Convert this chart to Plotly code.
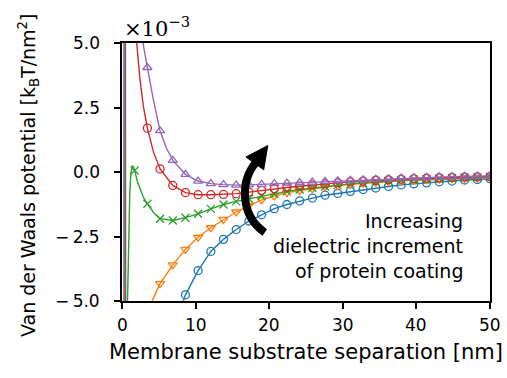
import plotly.graph_objects as go

# ---- data (potential in units of 1e-3 kBT/nm^2) ----
mark_x = [1.72, 3.45, 5.17, 6.90, 8.62, 10.34, 12.07, 13.79, 15.52, 17.24,
          18.97, 20.69, 22.41, 24.14, 25.86, 27.59, 29.31, 31.03, 32.76, 34.48,
          36.21, 37.93, 39.66, 41.38, 43.10, 44.83, 46.55, 48.28, 50.0]

blue_y = [-40.0, -14.0, -8.6, -6.2, -4.76, -3.82, -3.08, -2.61, -2.23, -1.90,
          -1.66, -1.42, -1.26, -1.12, -1.01, -0.90, -0.83, -0.75, -0.68, -0.62,
          -0.56, -0.50, -0.46, -0.42, -0.38, -0.35, -0.31, -0.29, -0.26]
orange_y = [-14.0, -5.4, -4.33, -3.60, -3.00, -2.53, -2.16, -1.84, -1.55, -1.30,
            -1.08, -0.93, -0.80, -0.72, -0.65, -0.58, -0.53, -0.48, -0.44, -0.40,
            -0.37, -0.34, -0.32, -0.30, -0.28, -0.26, -0.25, -0.23, -0.22]
green_y = [0.06, -1.23, -1.81, -1.88, -1.77, -1.62, -1.43, -1.26, -1.14, -1.04,
           -0.93, -0.84, -0.75, -0.68, -0.62, -0.56, -0.51, -0.46, -0.42, -0.38,
           -0.35, -0.32, -0.30, -0.28, -0.26, -0.24, -0.22, -0.21, -0.20]
red_y = [9.0, 1.70, 0.12, -0.52, -0.80, -0.88, -0.88, -0.87, -0.84, -0.78,
         -0.71, -0.65, -0.60, -0.55, -0.50, -0.46, -0.42, -0.38, -0.35, -0.32,
         -0.30, -0.28, -0.26, -0.24, -0.22, -0.21, -0.20, -0.19, -0.17]
purple_y = [14.0, 4.05, 1.60, 0.45, -0.09, -0.35, -0.45, -0.49, -0.51, -0.50,
            -0.48, -0.45, -0.43, -0.41, -0.39, -0.36, -0.34, -0.32, -0.30, -0.28,
            -0.26, -0.24, -0.22, -0.21, -0.19, -0.18, -0.17, -0.16, -0.15]

# extra line samples at short separations (between markers)
blue_extra_x = [0.22, 0.34]
blue_extra_y = [80.0, -80.0]
orange_extra_x = [0.25, 0.60]
orange_extra_y = [80.0, -80.0]
green_extra_x = [0.28, 0.68, 0.75, 0.90, 1.05, 1.20, 1.40, 1.55, 2.10, 2.50, 2.90, 4.30]
green_extra_y = [80.0, -80.0, -5.0, -2.5, -0.9, -0.05, 0.23, 0.20, -0.38, -0.72, -0.98, -1.58]
red_extra_x = [0.30, 0.47, 2.00, 2.40, 2.90, 4.30]
red_extra_y = [-80.0, 80.0, 5.0, 3.7, 2.55, 0.75]
purple_extra_x = [0.22, 0.40, 2.85, 4.30, 6.00]
purple_extra_y = [-80.0, 80.0, 5.0, 2.75, 0.95]

series = [
    ("#1f77b4", "circle-open", blue_y, blue_extra_x, blue_extra_y),
    ("#ff7f0e", "triangle-down-open", orange_y, orange_extra_x, orange_extra_y),
    ("#2ca02c", "x-thin-open", green_y, green_extra_x, green_extra_y),
    ("#d62728", "circle-open", red_y, red_extra_x, red_extra_y),
    ("#9467bd", "triangle-up-open", purple_y, purple_extra_x, purple_extra_y),
]

x_ticks = [0, 10, 20, 30, 40, 50]
x_ticktext = ["0", "10", "20", "30", "40", "50"]
y_ticks = [-5.0, -2.5, 0.0, 2.5, 5.0]
y_ticktext = ["\u2212\u20095.0", "\u2212\u20092.5", "0.0", "2.5", "5.0"]

annot_lines = ["Increasing", "dielectric increment", "of protein coating"]

fig = go.Figure()
for color, symbol, ys, ex, ey in series:
    pts = sorted(zip(list(mark_x) + list(ex), list(ys) + list(ey)))
    fig.add_trace(go.Scatter(
        x=[p[0] for p in pts], y=[p[1] for p in pts], mode="lines",
        line=dict(color=color, width=1.4), hoverinfo="skip", showlegend=False))
    fig.add_trace(go.Scatter(
        x=mark_x, y=ys, mode="markers",
        marker=dict(symbol=symbol, size=8, color=color, line=dict(width=1.3, color=color)),
        showlegend=False))

text_font = "DejaVu Sans, Open Sans"
tick_font = "DejaVu Sans, Open Sans"
serif_font = "DejaVu Serif, serif"

# plot-area geometry in pixels (used to place labels in paper units)
L, T, W, H = 122, 43, 368, 258

# curved arrow (data coordinates)
fig.add_shape(type="path",
              path="M 19.40,-2.343 C 16.01,-1.683 16.01,-0.326 18.32,0.411",
              line=dict(color="black", width=8), xref="x", yref="y")
fig.add_shape(type="path",
              path="M 19.81,1.024 L 19.25,0.085 L 16.84,0.582 Z",
              fillcolor="black", line=dict(color="black", width=1), xref="x", yref="y")

# tick labels (placed on the axes' own scales)
for v, t in zip(x_ticks, x_ticktext):
    fig.add_annotation(x=v, y=(T + H - 325) / H, xref="x", yref="paper",
                       xanchor="center", yanchor="middle", showarrow=False, text=t,
                       font=dict(family=tick_font, size=17, color="black"))
for v, t in zip(y_ticks, y_ticktext):
    fig.add_annotation(x=(102 - L) / W, y=v, xref="paper", yref="y",
                       xanchor="right", yanchor="middle", showarrow=False, text=t,
                       font=dict(family=tick_font, size=17, color="black"))

# annotation text, one line each
for i, line in enumerate(annot_lines):
    fig.add_annotation(x=(465 - L) / W, y=(T + H - (221 + 25 * i)) / H,
                       xref="paper", yref="paper", xanchor="right", yanchor="middle",
                       showarrow=False, text=line,
                       font=dict(family=text_font, size=19, color="black"))

fig.add_annotation(x=0, y=1, xref="paper", yref="paper", xanchor="left", yanchor="bottom",
                   showarrow=False,
                   text="\u00d710<sup>\u22123</sup>",
                   font=dict(family=serif_font, size=21, color="black"))

# axis titles
fig.add_annotation(x=0.5, y=(T + H - 352) / H, xref="paper", yref="paper",
                   xanchor="center", yanchor="middle", showarrow=False,
                   text="Membrane substrate separation [nm]",
                   font=dict(family=text_font, size=21, color="black"))
fig.add_annotation(x=(28 - L) / W, y=(T + H - 176) / H, xref="paper", yref="paper",
                   xanchor="center", yanchor="middle", showarrow=False, textangle=-90,
                   text="Van der Waals potential [k<sub>B</sub>T/nm<sup>2</sup>]",
                   font=dict(family=text_font, size=19, color="black"))

fig.update_layout(
    width=507, height=378,
    margin=dict(l=L, r=507 - L - W, t=T, b=378 - T - H, autoexpand=False),
    paper_bgcolor="white", plot_bgcolor="white",
    showlegend=False,
    xaxis=dict(range=[0, 50], tickmode="array", tickvals=x_ticks, showticklabels=False,
               ticks="outside", ticklen=6, tickwidth=1.6,
               tickcolor="black", showline=True, linecolor="black", linewidth=1.6, mirror=True,
               showgrid=False, zeroline=False, automargin=False),
    yaxis=dict(range=[-5, 5], tickmode="array", tickvals=y_ticks, showticklabels=False,
               ticks="outside",
               ticklen=6, tickwidth=1.6, tickcolor="black", showline=True, linecolor="black",
               linewidth=1.6, mirror=True, showgrid=False, zeroline=False, automargin=False),
)

fig.write_html("out.html", post_script="document.body.style.margin='0';",
               config={"displayModeBar": False})
